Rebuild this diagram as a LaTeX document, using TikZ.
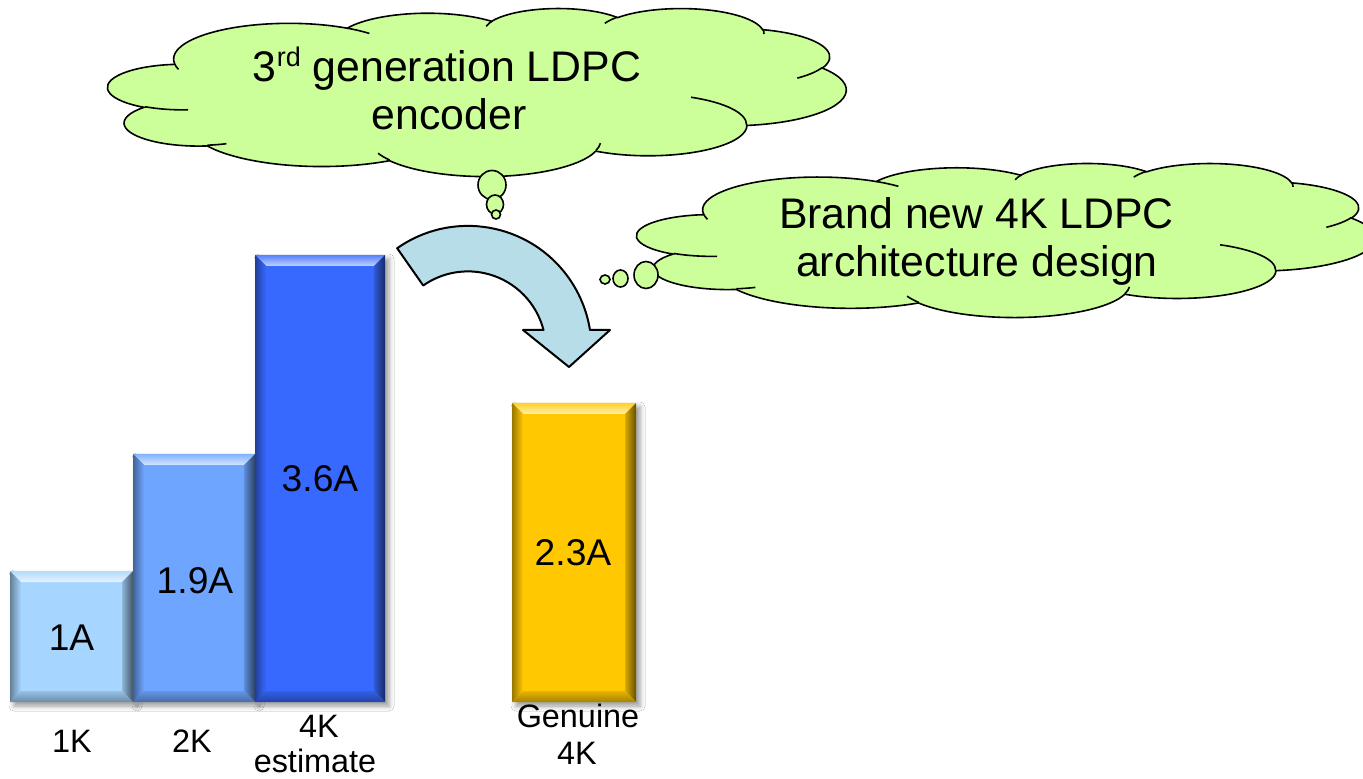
\documentclass[tikz,border=0pt]{standalone}
\usepackage{fontspec}
\setmainfont{Liberation Sans}
\usetikzlibrary{shadows.blur}

\definecolor{cloudgreen}{HTML}{CCFF99}
\definecolor{arrowblue}{HTML}{B7DEE8}
\definecolor{barA}{HTML}{A6D6FF}
\definecolor{barB}{HTML}{6EA5FF}
\definecolor{barC}{HTML}{3769FF}
\definecolor{barD}{HTML}{FFC800}

% elliptical arc given with OOXML-style visual angles
\newcommand\cldarc[4]{arc[x radius=#1, y radius=#2,
  start angle={atan2((#1)*sin(#3),(#2)*cos(#3))},
  delta angle={mod(atan2((#1)*sin((#3)+(#4)),(#2)*cos((#3)+(#4)))-atan2((#1)*sin(#3),(#2)*cos(#3))+720,360)}]}

\newcommand\cldOuter{(39,143.70)
  \cldarc{67.53}{91.90}{-190.4875}{123.7805}
  \cldarc{53.33}{72.67}{-144.1024}{89.9452}
  \cldarc{43.65}{59.45}{-145.8079}{99.7230}
  \cldarc{48.57}{65.95}{-130.9861}{117.2417}
  \cldarc{53.33}{72.73}{-78.7089}{109.0269}
  \cldarc{67.75}{92.20}{-46.2673}{130.2690}
  \cldarc{57.85}{78.67}{0.6250}{114.0333}
  \cldarc{67.52}{92.15}{22.4516}{115.1726}
  \cldarc{77.20}{105.43}{66.2426}{75.7110}
  \cldarc{43.60}{59.18}{-274.9421}{146.7356}
  \cldarc{43.45}{59.45}{-246.8285}{152.5189} -- cycle}

\newcommand\cldInner{%
  (46.93,261.77) \cldarc{43.45}{59.45}{86.7420}{26.4295}
  (69.28,348.99) \cldarc{43.60}{59.18}{73.6105}{11.4475}
  (164.78,390.90) \cldarc{67.52}{92.15}{137.6242}{14.0811}
  (288.27,347.51) \cldarc{67.52}{92.15}{6.4533}{15.9984}
  (341.29,229.54) \cldarc{57.85}{78.67}{-70.2924}{70.9174}
  (417.98,153.54) \cldarc{53.33}{72.73}{30.3180}{27.7515}
  (383.24,54.26) \cldarc{48.57}{65.95}{-13.7443}{14.8589}
  (290.78,39.52) \cldarc{48.57}{65.95}{-149.1815}{18.1954}
  (221.41,47.20) \cldarc{43.65}{59.45}{-163.4943}{17.6864}
  (140.00,51.92) \cldarc{67.53}{91.90}{-66.7070}{12.3194}
  (41.27,157.89) \cldarc{67.53}{91.90}{157.6544}{11.8582}}

% bevelled bar: x1 y1 x2 y2 colour
\newcommand\bevelbar[5]{%
  \fill[#5, blur shadow={shadow xshift=2pt, shadow yshift=-2pt, shadow blur radius=2.5pt, shadow opacity=40}] (#1,#2) rectangle (#3,#4);
  \shade[top color=#5!85!white, bottom color=#5!30!white] (#1,#2) -- (#3,#2) -- (#3-11,#2+11) -- (#1+11,#2+11) -- cycle;
  \shade[left color=#5!60!black, right color=#5] (#1,#2) -- (#1+11,#2+11) -- (#1+11,#4-11) -- (#1,#4) -- cycle;
  \shade[left color=#5!85!black, right color=#5!40!black] (#3,#2) -- (#3,#4) -- (#3-11,#4-11) -- (#3-11,#2+11) -- cycle;
  \shade[top color=#5!90!black, bottom color=#5!65!black] (#1,#4) -- (#3,#4) -- (#3-11,#4-11) -- (#1+11,#4-11) -- cycle;
}

\begin{document}
\begin{tikzpicture}[x=0.5pt,y=-0.5pt,
  cloudline/.style={draw=black, line width=0.8pt},
  cloudfill/.style={fill=cloudgreen, draw=black, line width=0.8pt},
  bubble/.style={fill=cloudgreen, draw=black, line width=0.8pt},
  bigarrow/.style={fill=arrowblue, draw=black, line width=1pt, line join=round},
  barlbl/.style={font=\fontsize{18.6}{21}\selectfont, inner sep=0pt, anchor=base},
  axlbl/.style={font=\fontsize{16.2}{19}\selectfont, inner sep=0pt, anchor=base},
  cloudlbl/.style={font=\fontsize{21.4}{25}\selectfont, inner sep=0pt, anchor=base}]
\useasboundingbox (0,0) rectangle (1363,779);
\clip (0,0) rectangle (1363,779);
\fill[white] (0,0) rectangle (1363,779);

% bars
\bevelbar{10}{571}{133}{702}{barA}
\bevelbar{133}{454}{255}{702}{barB}
\bevelbar{255}{255}{385}{702}{barC}
\bevelbar{512}{403}{636}{702}{barD}

\node[barlbl] (v1) at (71.5,650) {1A};
\node[barlbl] (v2) at (195,593) {1.9A};
\node[barlbl] (v3) at (320,492) {3.6A};
\node[barlbl] (v4) at (573,566) {2.3A};

\node[axlbl] (k1) at (72,752) {1K};
\node[axlbl] (k2) at (192,752) {2K};
\node[axlbl] (k4a) at (319,737) {4K};
\node[axlbl] (k4b) at (315,772) {estimate};
\node[axlbl] (g1) at (578,727) {Genuine};
\node[axlbl] (g2) at (577,764) {4K};

% curved arrow
\coordinate (ac) at (468,349.4);
\draw[bigarrow] ([shift={(-125:123.5)}]ac) arc[start angle=-125, end angle=-9.04, radius=123.5]
  -- (610,330) -- (569,367) -- (523,330) -- (543.5,330)
  arc[start angle=-14.4, end angle=-125, radius=78] -- cycle;

% cloud 1
\begin{scope}[xshift=54pt, yshift=-4pt, x=0.854167pt, y=-0.194444pt]
  \path[cloudfill] \cldOuter;
  \path[cloudline] \cldInner;
\end{scope}
\draw[bubble] (492,185) ellipse [x radius=14, y radius=14.5];
\draw[bubble] (495,204.5) ellipse [x radius=8.5, y radius=9.5];
\draw[bubble] (496,214.5) ellipse [x radius=4.5, y radius=4.5];

% cloud 2
\begin{scope}[xshift=318.5pt, yshift=-81.5pt, x=0.854167pt, y=-0.178241pt]
  \path[cloudfill] \cldOuter;
  \path[cloudline] \cldInner;
\end{scope}
\draw[bubble] (646,275) ellipse [x radius=12, y radius=13.5];
\draw[bubble] (620.5,278.5) ellipse [x radius=7.5, y radius=8.5];
\draw[bubble] (605,279.5) ellipse [x radius=5, y radius=4.5];

\node[cloudlbl] (c1a) at (447,82) {3\raisebox{0.36em}{\fontsize{13.5}{13.5}\selectfont rd} generation LDPC};
\node[cloudlbl] (c1b) at (449,130) {encoder};
\node[cloudlbl] (c2a) at (976.5,229) {Brand new 4K LDPC};
\node[cloudlbl] (c2b) at (977,277) {architecture design};
\end{tikzpicture}
\end{document}
